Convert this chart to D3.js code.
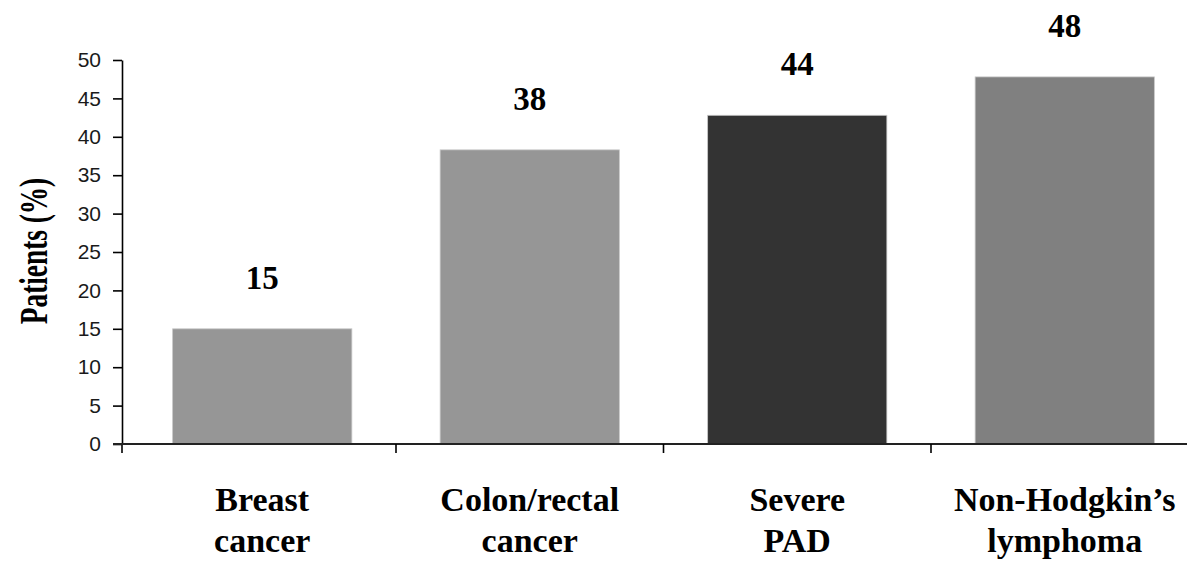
<!DOCTYPE html>
<html>
<head>
<meta charset="utf-8">
<script src="https://cdn.jsdelivr.net/npm/d3@7"></script>
<style>
  html, body { margin: 0; padding: 0; background: #ffffff; }
  svg { display: block; }
</style>
</head>
<body>
<svg id="chart" width="1187" height="567"></svg>
<script>
// ---- data ----
const categories = ["Breast cancer", "Colon/rectal cancer", "Severe PAD", "Non-Hodgkin\u2019s lymphoma"];
const categoryLines = [["Breast", "cancer"], ["Colon/rectal", "cancer"], ["Severe", "PAD"], ["Non-Hodgkin\u2019s", "lymphoma"]];
const values = [15, 38.3, 42.8, 47.8];
const valueLabels = ["15", "38", "44", "48"];
const barColors = ["#969696", "#969696", "#333333", "#808080"];
const yTicks = [0, 5, 10, 15, 20, 25, 30, 35, 40, 45, 50];
const yTitle = "Patients (%)";

// ---- layout ----
const svg = d3.select("#chart");
const axisX = 122, axisY = 444, topY = 60;

const x = d3.scaleBand()
  .domain(categories)
  .range([128.5, 1198.5])
  .paddingInner(0.33)
  .paddingOuter(0.165);

const y = d3.scaleLinear().domain([0, 50]).range([axisY, topY]);

const serif = "'Liberation Serif', 'Times New Roman', serif";

// bars
svg.append("g").selectAll("rect")
  .data(categories)
  .join("rect")
  .attr("x", d => x(d))
  .attr("width", x.bandwidth())
  .attr("y", (d, i) => y(values[i]))
  .attr("height", (d, i) => y(0) - y(values[i]))
  .attr("fill", (d, i) => barColors[i])
  .attr("stroke", "#c8c8c8")
  .attr("stroke-width", 0.8);

// value labels
svg.append("g").selectAll("text")
  .data(categories)
  .join("text")
  .attr("x", d => x(d) + x.bandwidth() / 2)
  .attr("y", (d, i) => y(values[i]) - 40)
  .attr("text-anchor", "middle")
  .attr("font-family", serif)
  .attr("font-weight", "bold")
  .attr("font-size", 33)
  .attr("fill", "#000")
  .text((d, i) => valueLabels[i]);

// y axis
const yAxis = d3.axisLeft(y).tickValues(yTicks).tickSize(9).tickSizeOuter(0).tickPadding(12);
const gy = svg.append("g").attr("transform", `translate(${axisX},0)`).call(yAxis);
gy.select(".domain").attr("stroke", "#000").attr("stroke-width", 1.6);
gy.selectAll(".tick line").attr("stroke", "#000").attr("stroke-width", 1.6);
gy.selectAll(".tick text")
  .attr("font-family", "'Liberation Sans', Tahoma, sans-serif")
  .attr("font-size", 21)
  .attr("fill", "#1a1a1a");
// extension of y axis below the x axis
svg.append("line")
  .attr("x1", axisX).attr("x2", axisX)
  .attr("y1", y(0)).attr("y2", y(0) + 9)
  .attr("stroke", "#000").attr("stroke-width", 1.6);

// x axis
svg.append("line")
  .attr("x1", axisX - 9).attr("x2", 1187)
  .attr("y1", y(0)).attr("y2", y(0))
  .attr("stroke", "#222").attr("stroke-width", 1.8);
const step = x.step();
const boundaries = categories.slice(0, -1).map(c => x(c) + x.bandwidth() + (step - x.bandwidth()) / 2);
svg.append("g").selectAll("line")
  .data(boundaries)
  .join("line")
  .attr("x1", d => d).attr("x2", d => d)
  .attr("y1", y(0)).attr("y2", y(0) + 9)
  .attr("stroke", "#000").attr("stroke-width", 1.6);

// category labels
const catG = svg.append("g").selectAll("text")
  .data(categories)
  .join("text")
  .attr("text-anchor", "middle")
  .attr("font-family", serif)
  .attr("font-weight", "bold")
  .attr("font-size", 34)
  .attr("fill", "#000");
catG.each(function(d, i) {
  const t = d3.select(this);
  const cx = x(d) + x.bandwidth() / 2;
  categoryLines[i].forEach((line, j) => {
    t.append("tspan").attr("x", cx).attr("y", 511 + j * 41).text(line);
  });
});

// y title
svg.append("text")
  .attr("transform", "translate(47,251) rotate(-90) scale(0.7,1)")
  .attr("text-anchor", "middle")
  .attr("font-family", serif)
  .attr("font-weight", "bold")
  .attr("font-size", 39)
  .attr("fill", "#000")
  .text(yTitle);
</script>
</body>
</html>
